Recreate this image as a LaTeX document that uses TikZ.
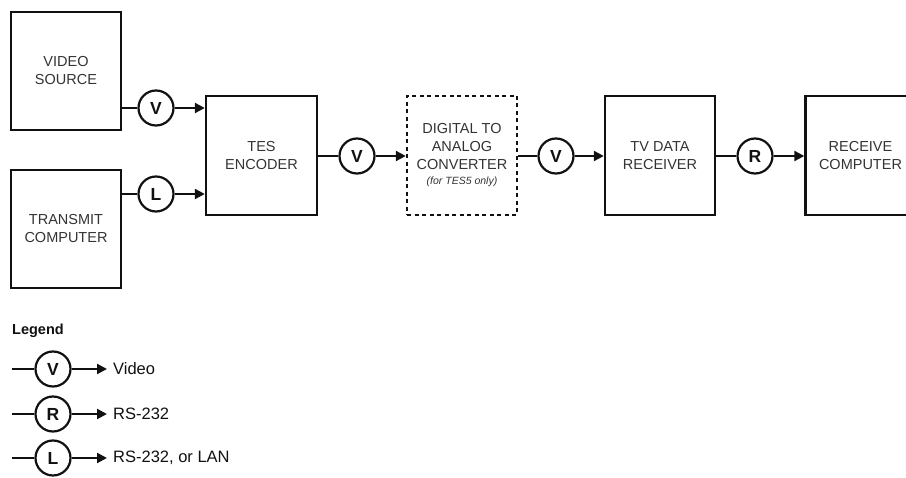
\documentclass[tikz,border=0pt]{standalone}
\usepackage{fontspec}
\setmainfont{Liberation Sans}
\usetikzlibrary{arrows.meta}
\definecolor{txt}{HTML}{333333}
\definecolor{ln}{HTML}{111111}
\tikzset{
  blk/.style={draw=ln, line width=2.4pt, minimum width=110pt, minimum height=118pt, inner sep=0pt,
    align=center, text=txt, font=\fontsize{14.5}{18}\selectfont},
  dblk/.style={blk, dash pattern=on 4pt off 3.5pt, line width=2.4pt},
  sig/.style={draw=ln, line width=2.2pt, circle, minimum size=35pt, inner sep=0pt, text=ln,
    font=\bfseries\fontsize{17.5}{17}\selectfont},
  wire/.style={draw=ln, line width=2.2pt},
  arr/.style={wire, -{Triangle[length=10pt,width=10pt]}},
  legtxt/.style={anchor=west, text=ln, font=\fontsize{16.5}{18}\selectfont, inner sep=0pt},
}
\begin{document}
\begin{tikzpicture}[x=1pt,y=-1pt]
\useasboundingbox (0,0) rectangle (906,478);
\clip (0,0) rectangle (906,478);
% blocks
\node[blk] (vs) at (66,71) {VIDEO\\SOURCE};
\node[blk] (tc) at (66,229) {TRANSMIT\\COMPUTER};
\node[blk, minimum width=111pt, minimum height=119pt] (enc) at (261.5,155.5) {TES\\ENCODER};
\node[dblk, minimum height=119pt] (dac) at (462,155.5) {DIGITAL TO\\ANALOG\\CONVERTER\\[-3pt]{\itshape\fontsize{10.5}{12}\selectfont (for TES5 only)}};
\node[blk, minimum height=119pt] (tvr) at (660,155.5) {TV DATA\\RECEIVER};
\node[blk, minimum height=119pt] (rc) at (860.5,155.5) {RECEIVE\\COMPUTER};
% signal circles
\node[sig] (cv1) at (156,108) {V};
\node[sig] (cl1) at (156,194) {L};
\node[sig] (cv2) at (357,156) {V};
\node[sig] (cv3) at (556,156) {V};
\node[sig] (cr) at (755,156) {R};
% connectors
\draw[wire] (cv1 -| vs.east) -- (cv1);
\draw[arr] (cv1) -- (cv1 -| enc.west);
\draw[wire] (cl1 -| tc.east) -- (cl1);
\draw[arr] (cl1) -- (cl1 -| enc.west);
\draw[wire] (cv2 -| enc.east) -- (cv2);
\draw[arr] (cv2) -- (cv2 -| dac.west);
\draw[wire] (cv3 -| dac.east) -- (cv3);
\draw[arr] (cv3) -- (cv3 -| tvr.west);
\draw[wire] (cr -| tvr.east) -- (cr);
\draw[arr] (cr) -- (cr -| rc.west);
% legend
\node[anchor=west, inner sep=0pt, text=ln, font=\bfseries\fontsize{14.5}{16}\selectfont] (leg) at (12,331) {Legend};
\node[sig] (lv) at (53,369) {V};
\node[sig] (lr) at (53,414) {R};
\node[sig] (ll) at (53,458) {L};
\coordinate (lv0) at (12,369);
\coordinate (lr0) at (12,414);
\coordinate (ll0) at (12,458);
\node[legtxt] (tv) at (113,369) {Video};
\node[legtxt] (tr) at (113,414) {RS-232};
\node[legtxt] (tl) at (113,458) {RS-232, or LAN};
\draw[wire] (lv0) -- (lv);
\draw[arr] (lv) -- ([xshift=-6pt]tv.west);
\draw[wire] (lr0) -- (lr);
\draw[arr] (lr) -- ([xshift=-6pt]tr.west);
\draw[wire] (ll0) -- (ll);
\draw[arr] (ll) -- ([xshift=-6pt]tl.west);
\end{tikzpicture}
\end{document}
